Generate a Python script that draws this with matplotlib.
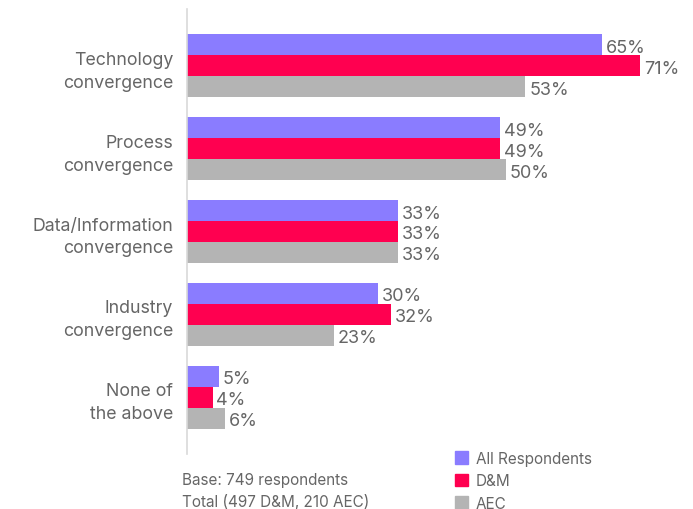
import numpy as np
import matplotlib.pyplot as plt
from matplotlib.patches import Patch

categories = ['Technology\nconvergence', 'Process\nconvergence', 'Data/Information\nconvergence',
              'Industry\nconvergence', 'None of\nthe above']
all_resp = [65, 49, 33, 30, 5]
dm = [71, 49, 33, 32, 4]
aec = [53, 50, 33, 23, 6]
series_names = ['All Respondents', 'D&M', 'AEC']
colors = ['#8A7CFF', '#FF0050', '#B4B4B4']
text_col = '#666666'

plt.rcParams['font.family'] = ['Inter', 'DejaVu Sans']

fig = plt.figure(figsize=(6.93, 5.1), dpi=100)
ax = fig.add_axes([187 / 693, 1 - 455 / 510, 503 / 693, 445 / 510])

y = np.arange(len(categories))
h = 0.253
for i, (vals, c) in enumerate(zip([all_resp, dm, aec], colors)):
    pos = y + (i - 1) * h
    ax.barh(pos, vals, height=h, color=c)
    for p, v in zip(pos, vals):
        ax.text(v + 0.6, p + 0.03, f'{v}%', va='center', ha='left', fontsize=13, color=text_col)

ax.set_xlim(0, 78.8)
ax.set_ylim(4.687, -0.687)
ax.set_yticks(y)
ax.set_yticklabels(categories, fontsize=12.8, color=text_col, linespacing=1.45)
ax.tick_params(axis='y', length=0, pad=10)
ax.set_xticks([])
for s in ['top', 'right', 'bottom']:
    ax.spines[s].set_visible(False)
ax.spines['left'].set_color('#d9d9d9')
ax.spines['left'].set_linewidth(1.2)

handles = [Patch(color=c) for c in colors]
fig.legend(handles, series_names, loc='upper left', bbox_to_anchor=(447 / 693, 1 - 444 / 510),
           frameon=False, fontsize=11, labelcolor=text_col, handlelength=0.9, handleheight=0.9,
           handletextpad=0.5, labelspacing=0.5, borderpad=0)

fig.text(182 / 693, 1 - 481 / 510, 'Base: 749 respondents', fontsize=11, color=text_col, va='center')
fig.text(182 / 693, 1 - 502 / 510, 'Total (497 D&M, 210 AEC)', fontsize=11, color=text_col, va='center')

fig.savefig('out.png', dpi=100)
